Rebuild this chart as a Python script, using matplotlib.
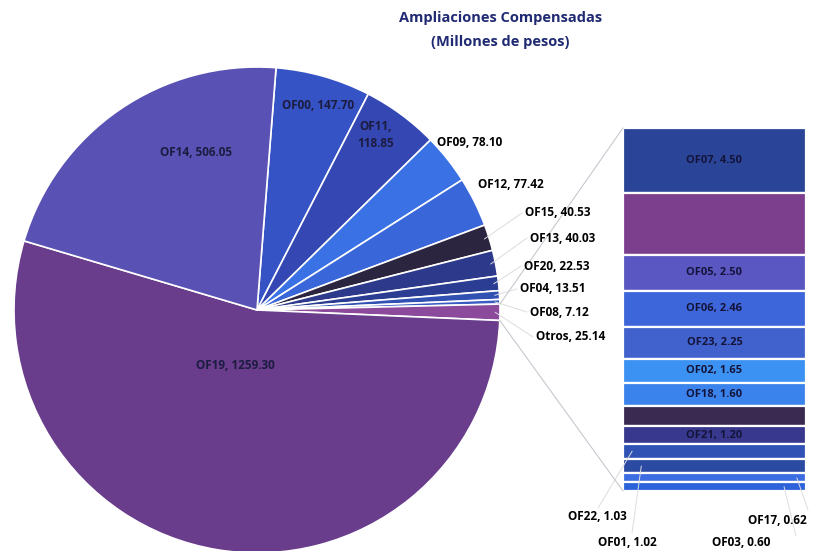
import numpy as np
import matplotlib.pyplot as plt
from matplotlib.patches import ConnectionPatch

plt.rcParams['font.family'] = ['Open Sans', 'DejaVu Sans']

# main pie, clockwise from the top
pie_names = ['OF00', 'OF11', 'OF09', 'OF12', 'OF15', 'OF13', 'OF20', 'OF04',
             'OF08', 'Otros', 'OF19', 'OF14']
pie_values = [147.70, 118.85, 78.10, 77.42, 40.53, 40.03, 22.53, 13.51,
              7.12, 25.14, 1259.30, 506.05]
pie_colors = ['#3653c6', '#3447b2', '#3a72e6', '#3966d8', '#2b2540', '#2d3a8c',
              '#2a3d92', '#3050b2', '#3a5cc2', '#8c4a9c', '#693c8c', '#5a51b4']

# breakdown of "Otros", top to bottom
bar_names = ['OF07', 'OF10', 'OF05', 'OF06', 'OF23', 'OF02', 'OF18', 'OF16',
             'OF21', 'OF22', 'OF01', 'OF17', 'OF03']
bar_values = [4.50, 4.29, 2.50, 2.46, 2.25, 1.65, 1.60, 1.42, 1.20, 1.03, 1.02,
              0.62, 0.60]
bar_colors = ['#2a4598', '#7b3f8e', '#5a56c2', '#3d66da', '#4162cc', '#3b92f2',
              '#3a82ec', '#3a2a52', '#38398e', '#2f52b4', '#2b4aa2', '#3b6ce2',
              '#2c62da']

fig = plt.figure(figsize=(8.2, 5.51), dpi=100)
W, H = 820, 551


def fig_rect(x0, y0, x1, y1):
    # pixel box (top-left origin) -> figure fraction
    return [x0 / W, 1 - y1 / H, (x1 - x0) / W, (y1 - y0) / H]


def fpt(px, py):
    return (px / W, 1 - py / H)


navy = '#1f2a72'
fig.text(0.61, 1 - 18 / H, 'Ampliaciones Compensadas', ha='center', va='center',
         fontsize=10.5, fontweight='bold', color=navy)
fig.text(0.61, 1 - 42 / H, '(Millones de pesos)', ha='center', va='center',
         fontsize=10.5, fontweight='bold', color=navy)

# pie
cx, cy, r = 257, 310, 243
ax = fig.add_axes(fig_rect(cx - r, cy - r, cx + r, cy + r))
wedges, _ = ax.pie(pie_values, colors=pie_colors, startangle=85.5,
                   counterclock=False, radius=1.0,
                   wedgeprops=dict(edgecolor='white', linewidth=1.2))
ax.set_xlim(-1, 1)
ax.set_ylim(-1, 1)
ax.set_aspect('equal')
ax.axis('off')

lab = {n: f'{n}, {v:.2f}' for n, v in zip(pie_names, pie_values)}
inner_font = dict(fontsize=8.5, fontweight='bold', color='#1c1c40', ha='center', va='center')
ax.text(0.25, 0.84, lab['OF00'], **inner_font)
ax.text(0.49, 0.72, 'OF11,\n118.85', linespacing=1.4, **inner_font)
ax.text(-0.25, 0.65, lab['OF14'], **inner_font)
ax.text(-0.09, -0.23, lab['OF19'], **inner_font)

line_kw = dict(color='#dcdce2', linewidth=0.7)
outer_font = dict(fontsize=8.5, fontweight='bold', color='black', ha='left', va='center')
outer_pos = {'OF09': (437, 143), 'OF12': (478, 185), 'OF15': (525, 213),
             'OF13': (530, 238), 'OF20': (524, 266), 'OF04': (520, 289),
             'OF08': (530, 312), 'Otros': (536, 337)}
for n, (px, py) in outer_pos.items():
    fig.text(*fpt(px, py), lab[n], **outer_font)
    w = wedges[pie_names.index(n)]
    a = np.deg2rad((w.theta1 + w.theta2) / 2)
    if n in ('OF15', 'OF13', 'OF20', 'OF04', 'OF08', 'Otros'):
        con = ConnectionPatch(xyA=(np.cos(a) * 0.98, np.sin(a) * 0.98), coordsA=ax.transData,
                              xyB=fpt(px - 3, py), coordsB='figure fraction', **line_kw)
        fig.add_artist(con)

# stacked bar for "Otros"
axb = fig.add_axes(fig_rect(623, 128, 806, 491))
bottoms = np.concatenate([[0], np.cumsum(bar_values)[:-1]])
axb.bar(0, bar_values, bottom=bottoms, width=1.0, color=bar_colors,
        edgecolor='white', linewidth=1.6)
axb.set_xlim(-0.5, 0.5)
axb.set_ylim(sum(bar_values), 0)
axb.axis('off')

bar_lab_font = dict(fontsize=8, fontweight='bold', color='#14143a', ha='center', va='center')
for i in [0, 2, 3, 4, 5, 6, 8]:
    axb.text(0, bottoms[i] + bar_values[i] / 2, f'{bar_names[i]}, {bar_values[i]:.2f}',
             **bar_lab_font)

bottom_pos = {9: (568, 517), 10: (598, 542), 11: (748, 520), 12: (712, 543)}
bottom_anchor = {9: (-0.45, (598, 508)), 10: (-0.4, (632, 533)),
                 11: (0.45, (808, 510)), 12: (0.38, (796, 536))}
for i, (px, py) in bottom_pos.items():
    fig.text(*fpt(px, py), f'{bar_names[i]}, {bar_values[i]:.2f}', **outer_font)
    bx, (lx, ly) = bottom_anchor[i]
    con = ConnectionPatch(xyA=(bx, bottoms[i] + bar_values[i] / 2), coordsA=axb.transData,
                          xyB=fpt(lx, ly), coordsB='figure fraction', **line_kw)
    fig.add_artist(con)

# connectors between the "Otros" wedge and the bar
w = wedges[pie_names.index('Otros')]
for th, yb in [(w.theta2, 0), (w.theta1, sum(bar_values))]:
    a = np.deg2rad(th)
    con = ConnectionPatch(xyA=(np.cos(a), np.sin(a)), coordsA=ax.transData,
                          xyB=(-0.5, yb), coordsB=axb.transData,
                          color='#c8c8d0', linewidth=0.8)
    fig.add_artist(con)

fig.savefig('out.png', dpi=100, facecolor='white')
